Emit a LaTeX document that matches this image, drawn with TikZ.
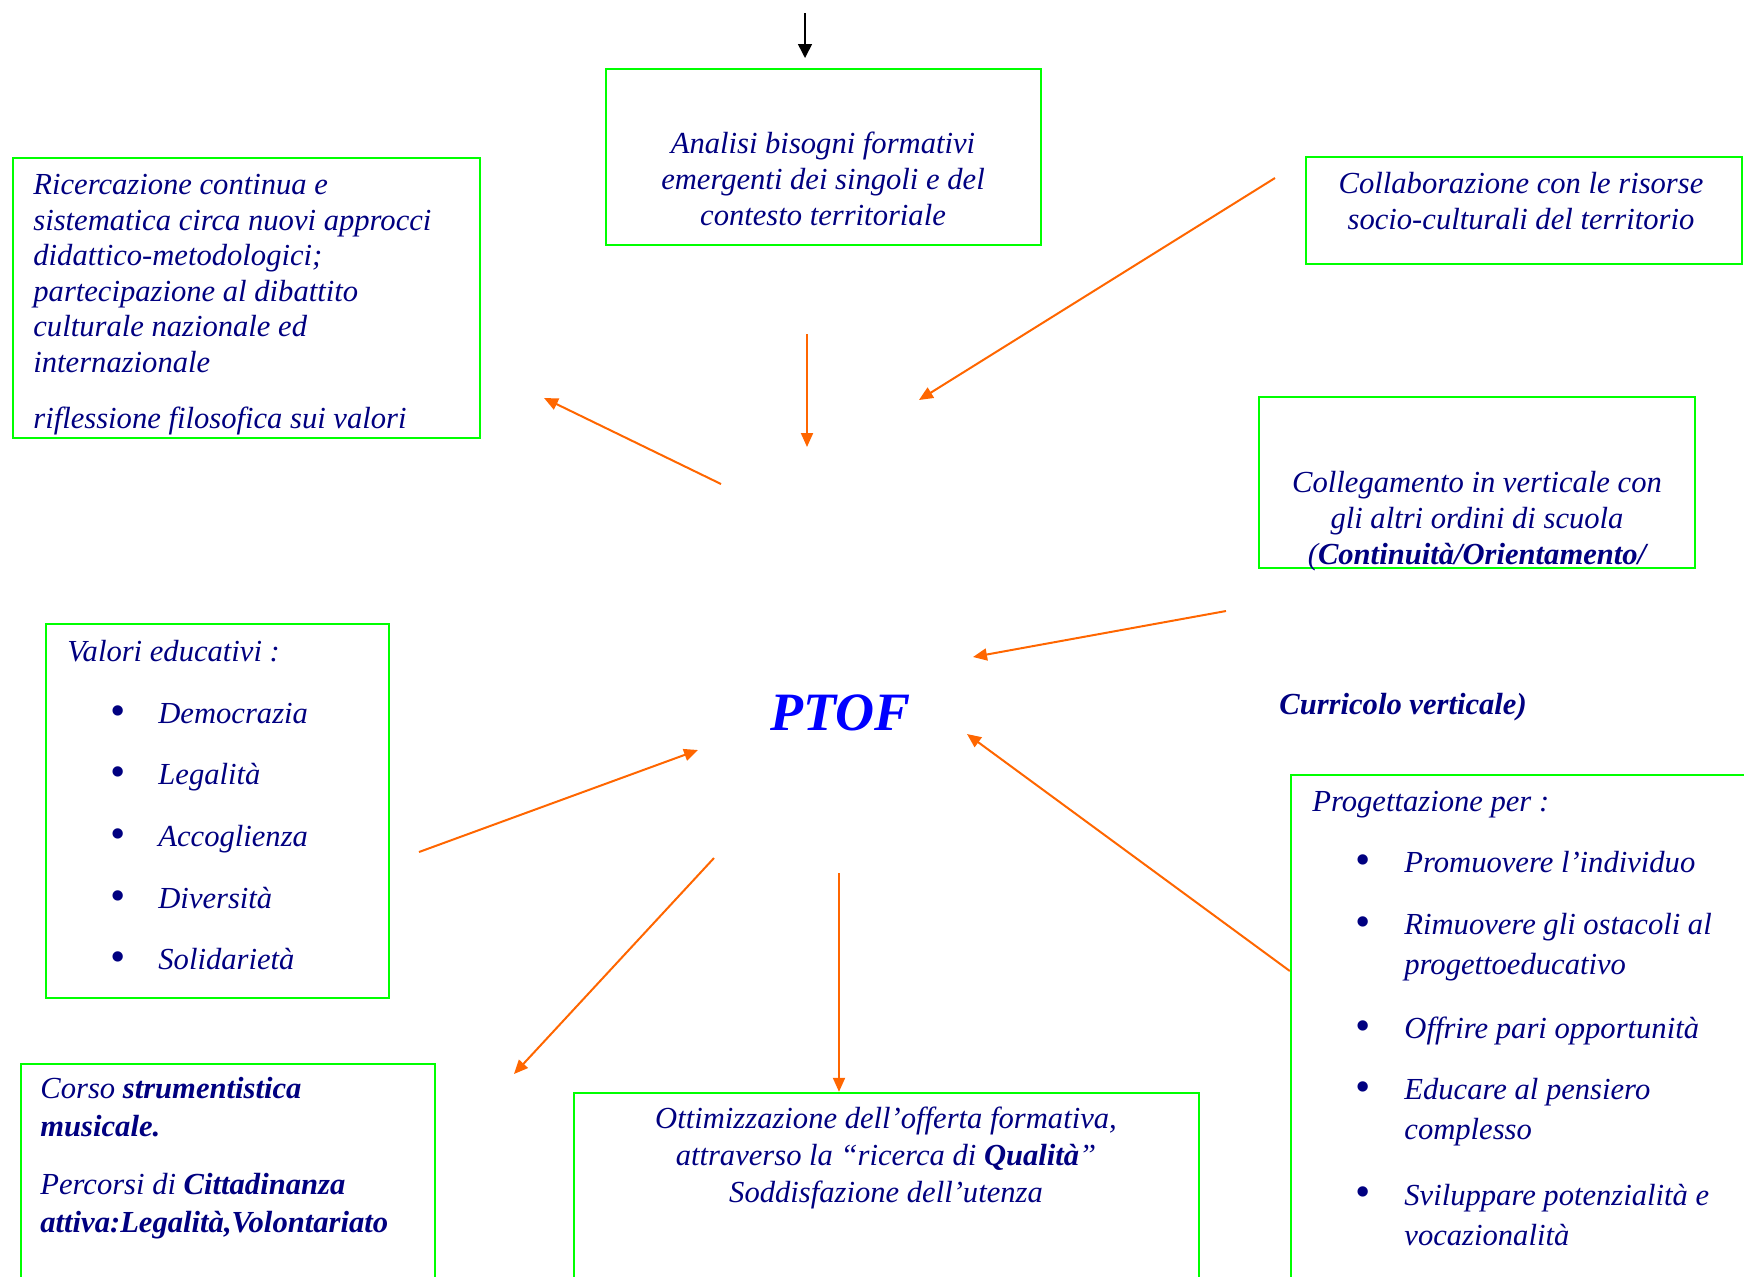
\documentclass[tikz,border=0pt]{standalone}
\usepackage{fontspec}
\setmainfont{Liberation Serif}
\usepackage{xcolor}
\usepackage{tikz}
\usetikzlibrary{arrows.meta,positioning,fit}

\definecolor{navyblue}{RGB}{0,0,128}
\definecolor{boxgreen}{RGB}{0,255,0}
\definecolor{arrorange}{RGB}{255,102,0}

\begin{document}
\begin{tikzpicture}[
x=0.5pt, y=-0.5pt,
font=\fontsize{15.3}{17.8}\selectfont\itshape,
box/.style={draw=boxgreen, line width=1.2pt, inner sep=0pt},
txt/.style={text=navyblue, inner sep=0pt, align=left, anchor=base west},
ctxt/.style={text=navyblue, inner sep=0pt, align=center, anchor=base},
bullet/.style={text=navyblue, inner sep=0pt, anchor=base, font=\fontsize{19}{19}\selectfont\bfseries},
arr/.style={draw=arrorange, line width=1pt, -{Triangle[length=7pt,width=6pt]}}
]
\useasboundingbox (0,0) rectangle (1744,1276);

% boxes
\node[box, fit={(606,69) (1041,245)}] (analisi) {};
\node[box, fit={(13,158) (480,438)}] (ricerca) {};
\node[box, fit={(1306,157) (1742,264)}] (collab) {};
\node[box, fit={(1259,397) (1695,568)}] (colleg) {};
\node[box, fit={(46,624) (389,998)}] (valori) {};
\node[box, fit={(1291,775) (1770,1300)}] (progetto) {};
\node[box, fit={(21,1064) (435,1300)}] (corso) {};
\node[box, fit={(574,1093) (1199,1300)}] (ottim) {};

% texts (multi-line nodes sit on their last baseline)
\node[ctxt] (analisitxt) at (823,225) {Analisi bisogni formativi\\emergenti dei singoli e del\\contesto territoriale};
\node[txt] (ricercatxt) at (33,428) {Ricercazione continua e\\sistematica circa nuovi approcci\\didattico-metodologici;\\partecipazione al dibattito\\culturale nazionale ed\\internazionale\\[10pt]riflessione filosofica sui valori};
\node[ctxt] (collabtxt) at (1521,229) {Collaborazione con le risorse\\socio-culturali del territorio};
\node[ctxt] (collegtxt) at (1477,564) {Collegamento in verticale con\\gli altri ordini di scuola\\(\textbf{Continuità/Orientamento/}};
\node[txt] (curricolo) at (1279,714) {\textbf{Curricolo verticale)}};
\node[text=blue, inner sep=0pt, font=\fontsize{27}{32}\selectfont\bfseries\itshape] (ptof) at (840,713) {PTOF};

\node[txt] (valorititle) at (67,661) {Valori educativi :};
\foreach \y/\t [count=\i] in {723/Democrazia, 784/Legalità, 846/Accoglienza, 908/Diversità, 969/Solidarietà} {
  \node[bullet] (vbul\i) at (118,\y) {•};
  \node[txt] (val\i) at (158,\y) {\t};
}

\node[txt] (progtitle) at (1312,811) {Progettazione per :};
\foreach \y/\z/\t [count=\i] in {872/872/{Promuovere l’individuo}, 934/974/{Rimuovere gli ostacoli al\\progettoeducativo}, 1038/1038/{Offrire pari opportunità}, 1099/1139/{Educare al pensiero\\complesso}, 1204/1245/{Sviluppare potenzialità e\\vocazionalità}} {
  \node[bullet] (pbul\i) at (1363,\y) {•};
  \node[txt, font=\fontsize{15.3}{20}\selectfont\itshape] (prog\i) at (1404,\z) {\t};
}

\node[txt, font=\fontsize{15.3}{19}\selectfont\itshape] (corsotxt) at (40,1232) {Corso \textbf{strumentistica}\\\textbf{musicale.}\\[10pt]Percorsi di \textbf{Cittadinanza}\\\textbf{attiva:Legalità,Volontariato}};
\node[ctxt, font=\fontsize{15.3}{18.5}\selectfont\itshape] (ottimtxt) at (886,1202) {Ottimizzazione dell’offerta formativa,\\attraverso la “ricerca di \textbf{Qualità}”\\Soddisfazione dell’utenza};

% arrows
\coordinate (topin) at (805,13);
\coordinate (topout) at (805,58);
\coordinate (a1in) at (807,334);
\coordinate (a1out) at (807,447);
\coordinate (a2in) at (721,484);
\coordinate (a2out) at (544,398);
\coordinate (a3in) at (1275,178);
\coordinate (a3out) at (919,400);
\coordinate (a4in) at (1226,611);
\coordinate (a4out) at (973,657);
\coordinate (a5in) at (419,852);
\coordinate (a5out) at (698,750);
\coordinate (a6in) at (progetto.west |- 0,971);
\coordinate (a6out) at (967,734);
\coordinate (a7in) at (714,858);
\coordinate (a7out) at (514,1074);
\coordinate (a8in) at (839,873);
\coordinate (a8out) at (ottim.north -| a8in);

\draw[-{Triangle[length=7pt,width=7pt]}, line width=0.8pt] (topin) -- (topout);
\draw[arr] (a1in) -- (a1out);
\draw[arr] (a2in) -- (a2out);
\draw[arr] (a3in) -- (a3out);
\draw[arr] (a4in) -- (a4out);
\draw[arr] (a5in) -- (a5out);
\draw[arr] (a6in) -- (a6out);
\draw[arr] (a7in) -- (a7out);
\draw[arr] (a8in) -- (a8out);
\end{tikzpicture}
\end{document}
